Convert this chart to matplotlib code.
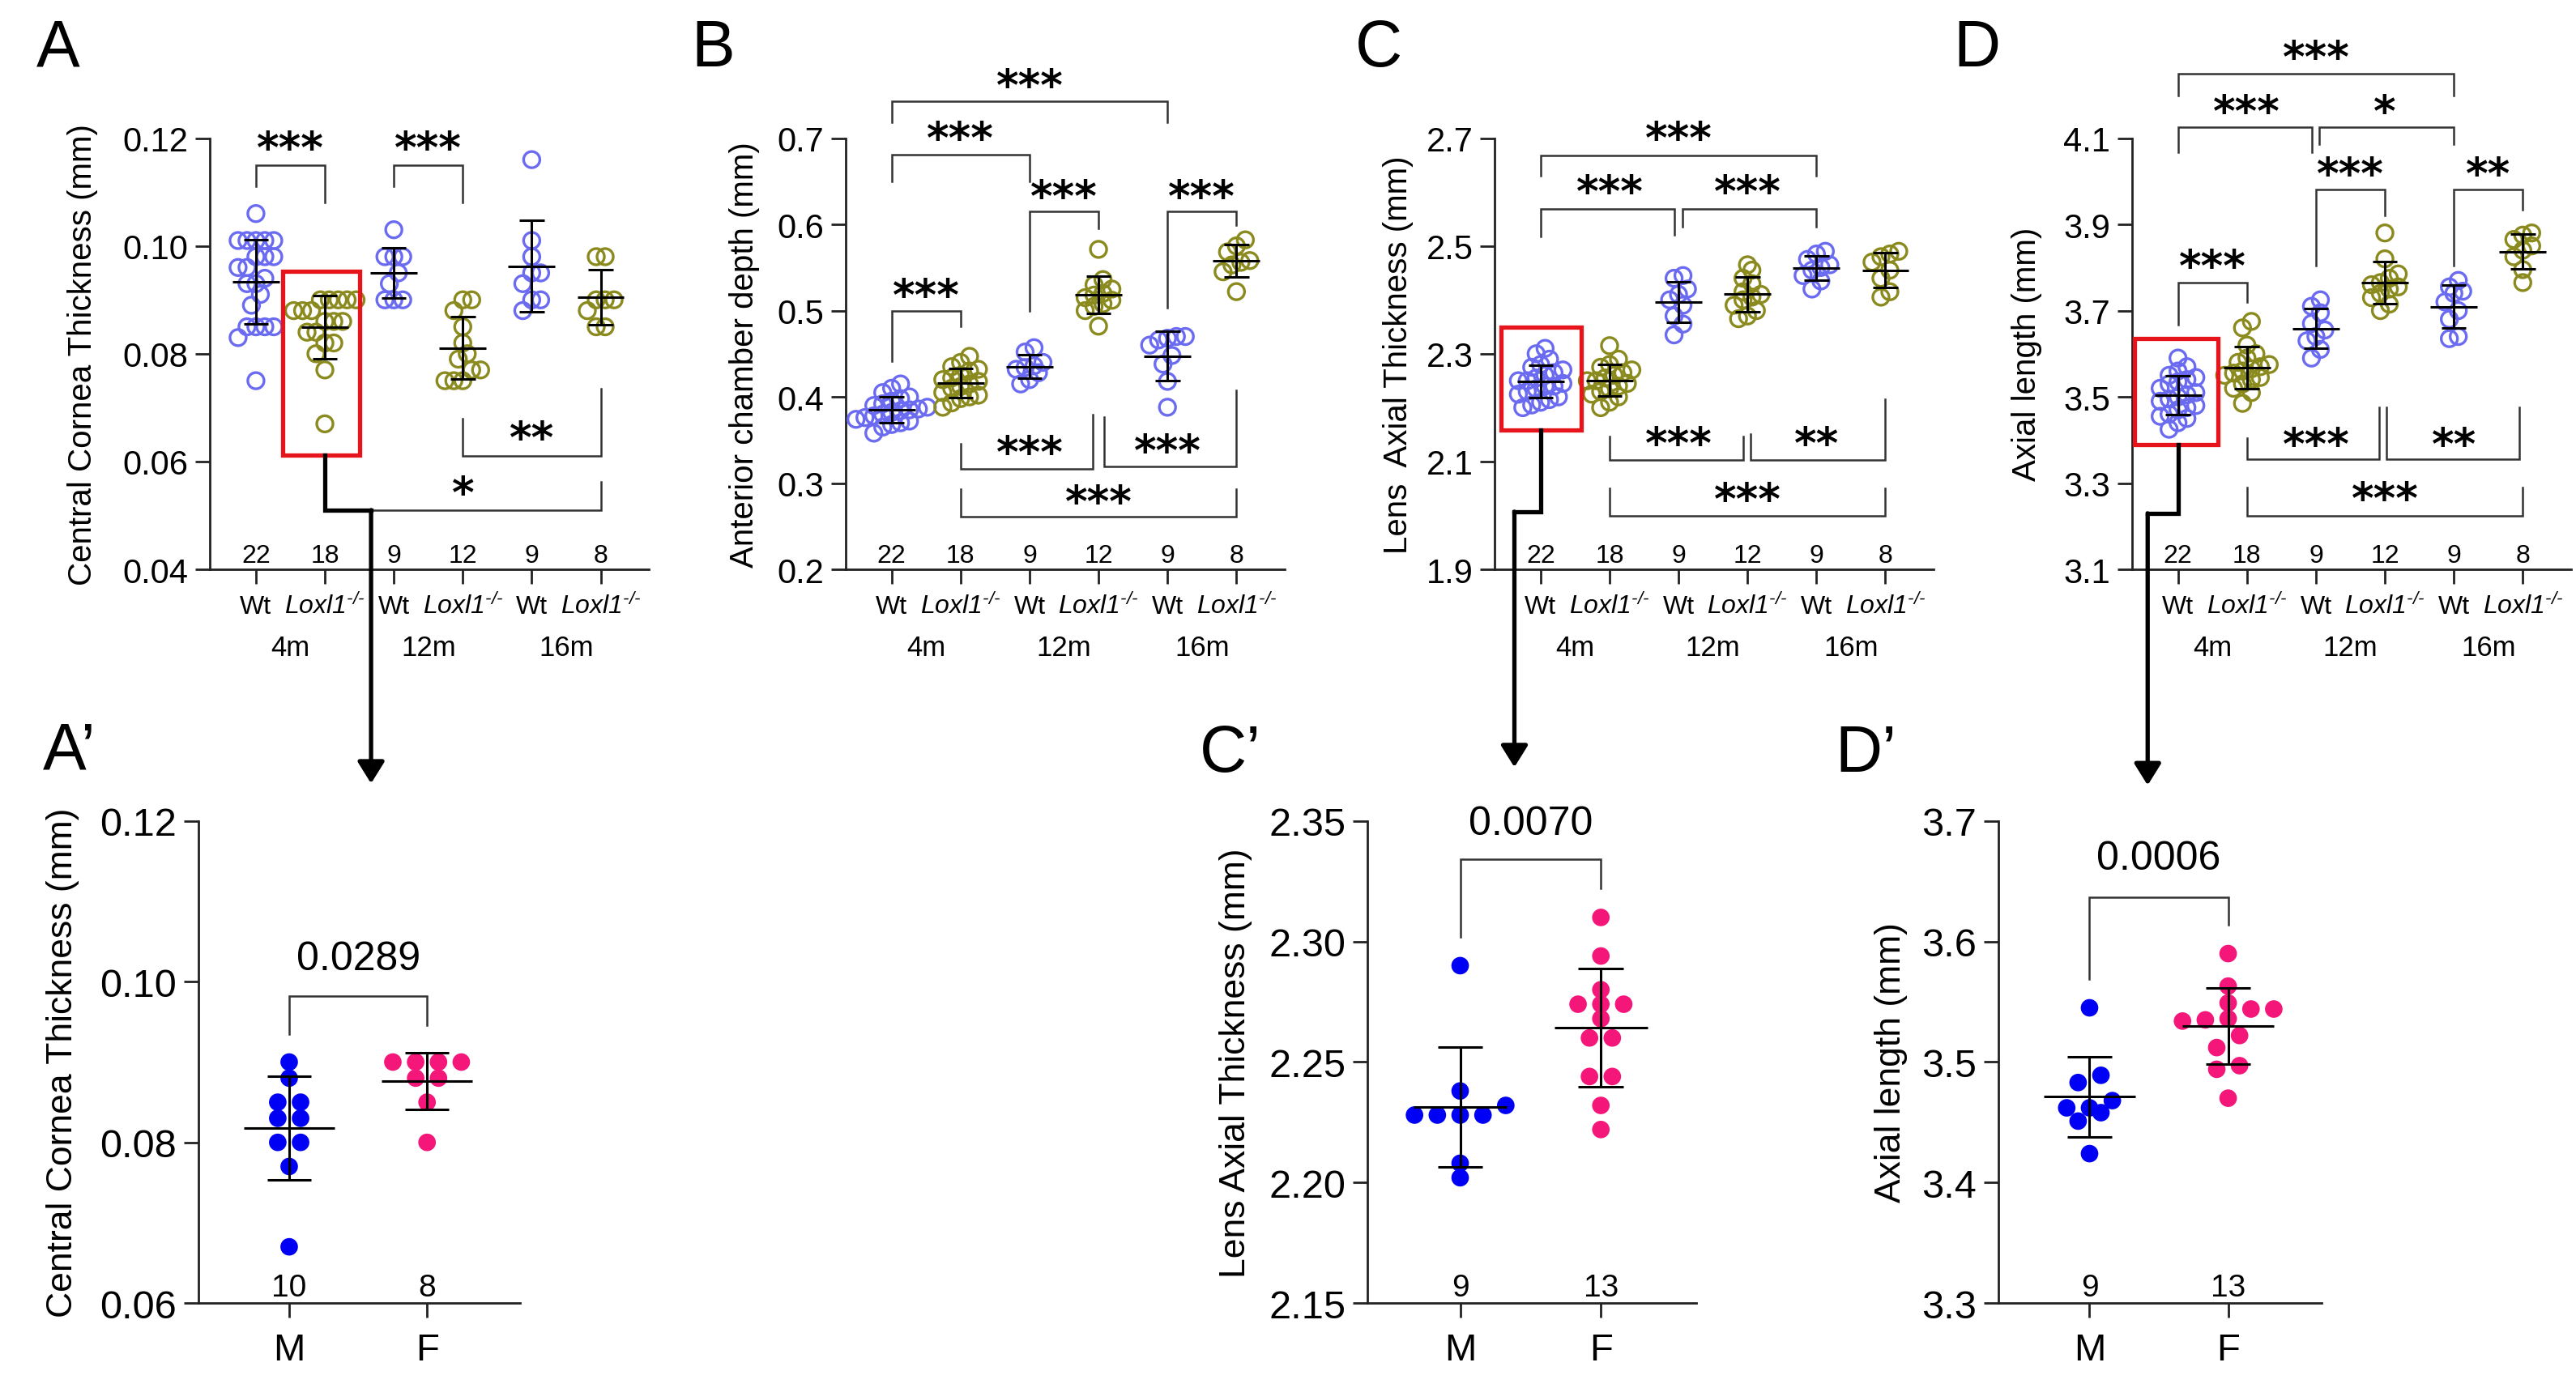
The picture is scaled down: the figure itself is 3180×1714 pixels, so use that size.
import numpy as np
import matplotlib
matplotlib.use('Agg')
import matplotlib.pyplot as plt
import matplotlib.transforms as mtransforms
from matplotlib.patches import Rectangle, FancyArrowPatch
from matplotlib.lines import Line2D

plt.rcParams['font.family'] = ['Liberation Sans', 'DejaVu Sans']
plt.rcParams['mathtext.fontset'] = 'custom'
plt.rcParams['mathtext.rm'] = 'Liberation Sans:italic'
plt.rcParams['mathtext.it'] = 'Liberation Sans:italic'
plt.rcParams['axes.linewidth'] = 1.0

# ---------------- datos ----------------
grupos = ['Wt', r'$\mathit{Loxl1}^{\text{-/-}}$', 'Wt', r'$\mathit{Loxl1}^{\text{-/-}}$',
          'Wt', r'$\mathit{Loxl1}^{\text{-/-}}$']
edades = ['4m', '12m', '16m']
n_grupos = [22, 18, 9, 12, 9, 8]

# A: grosor corneal central (mm)
cct_wt_4m = [0.106, 0.101, 0.101, 0.101, 0.101, 0.101, 0.098, 0.098, 0.098, 0.096, 0.096,
             0.094, 0.093, 0.093, 0.091, 0.089, 0.085, 0.085, 0.085, 0.085, 0.083, 0.075]
cct_ko_4m = [0.090, 0.090, 0.090, 0.090, 0.090, 0.088, 0.088, 0.088, 0.086, 0.086, 0.086,
             0.084, 0.084, 0.082, 0.082, 0.080, 0.077, 0.067]
cct_wt_12m = [0.103, 0.098, 0.098, 0.098, 0.095, 0.093, 0.090, 0.090, 0.090]
cct_ko_12m = [0.090, 0.090, 0.088, 0.085, 0.082, 0.080, 0.079, 0.077, 0.077, 0.075, 0.075, 0.075]
cct_wt_16m = [0.116, 0.101, 0.098, 0.095, 0.095, 0.093, 0.090, 0.090, 0.088]
cct_ko_16m = [0.098, 0.098, 0.090, 0.090, 0.090, 0.088, 0.085, 0.085]

# B: profundidad de camara anterior (mm)
acd_wt_4m = [0.415, 0.410, 0.405, 0.400, 0.398, 0.395, 0.392, 0.390, 0.388, 0.386, 0.385,
             0.384, 0.382, 0.380, 0.378, 0.376, 0.374, 0.372, 0.370, 0.368, 0.365, 0.358]
acd_ko_4m = [0.447, 0.440, 0.435, 0.432, 0.430, 0.425, 0.422, 0.420, 0.418, 0.415, 0.412,
             0.410, 0.405, 0.402, 0.400, 0.398, 0.393, 0.388]
acd_wt_12m = [0.457, 0.452, 0.440, 0.436, 0.434, 0.432, 0.428, 0.420, 0.415]
acd_ko_12m = [0.571, 0.536, 0.530, 0.525, 0.520, 0.518, 0.515, 0.512, 0.508, 0.505, 0.500, 0.482]
acd_wt_16m = [0.470, 0.470, 0.468, 0.466, 0.460, 0.448, 0.438, 0.418, 0.388]
acd_ko_16m = [0.582, 0.575, 0.568, 0.558, 0.556, 0.553, 0.545, 0.522]

# C: grosor axial del cristalino (mm)
lat_wt_4m = [2.310, 2.300, 2.290, 2.280, 2.275, 2.270, 2.265, 2.260, 2.255, 2.250, 2.250,
             2.245, 2.240, 2.240, 2.235, 2.230, 2.225, 2.220, 2.215, 2.210, 2.205, 2.200]
lat_ko_4m = [2.315, 2.290, 2.280, 2.275, 2.270, 2.265, 2.260, 2.255, 2.250, 2.250, 2.245,
             2.240, 2.235, 2.230, 2.225, 2.220, 2.210, 2.200]
lat_wt_12m = [2.445, 2.440, 2.420, 2.410, 2.400, 2.390, 2.370, 2.355, 2.335]
lat_ko_12m = [2.465, 2.455, 2.440, 2.430, 2.415, 2.410, 2.405, 2.400, 2.390, 2.380, 2.370, 2.365]
lat_wt_16m = [2.490, 2.485, 2.475, 2.465, 2.460, 2.455, 2.445, 2.435, 2.420]
lat_ko_16m = [2.490, 2.485, 2.480, 2.470, 2.455, 2.440, 2.415, 2.405]

# D: longitud axial (mm)
al_wt_4m = [3.590, 3.570, 3.560, 3.550, 3.545, 3.540, 3.535, 3.530, 3.520, 3.510, 3.505,
            3.500, 3.495, 3.490, 3.480, 3.475, 3.470, 3.460, 3.455, 3.450, 3.440, 3.425]
al_ko_4m = [3.675, 3.660, 3.620, 3.600, 3.590, 3.580, 3.575, 3.570, 3.565, 3.560, 3.555,
            3.550, 3.545, 3.540, 3.530, 3.520, 3.510, 3.485]
al_wt_12m = [3.725, 3.710, 3.695, 3.670, 3.655, 3.640, 3.630, 3.610, 3.590]
al_ko_12m = [3.880, 3.820, 3.785, 3.775, 3.765, 3.760, 3.755, 3.750, 3.740, 3.730, 3.715, 3.700]
al_wt_16m = [3.770, 3.755, 3.745, 3.740, 3.720, 3.700, 3.680, 3.640, 3.635]
al_ko_16m = [3.880, 3.875, 3.865, 3.850, 3.840, 3.825, 3.795, 3.765]

# A', C', D': por sexo (4m Wt)
sexos = ['M', 'F']
cct_m = [0.090, 0.088, 0.085, 0.085, 0.083, 0.083, 0.080, 0.080, 0.077, 0.067]
cct_f = [0.090, 0.090, 0.090, 0.090, 0.088, 0.088, 0.085, 0.080]
n_cct_sexo = [10, 8]
lat_m = [2.290, 2.238, 2.232, 2.228, 2.228, 2.228, 2.228, 2.208, 2.202]
lat_f = [2.310, 2.294, 2.280, 2.274, 2.274, 2.274, 2.268, 2.260, 2.260, 2.244, 2.244, 2.232, 2.222]
n_lat_sexo = [9, 13]
al_m = [3.545, 3.489, 3.483, 3.468, 3.462, 3.462, 3.458, 3.451, 3.424]
al_f = [3.590, 3.563, 3.549, 3.544, 3.544, 3.536, 3.535, 3.534, 3.522, 3.512, 3.497, 3.494, 3.470]
n_al_sexo = [9, 13]

p_cct, p_lat, p_al = '0.0289', '0.0070', '0.0006'

# ---------------- estilo ----------------
col_wt = '#6b6bf2'
col_ko = '#8a8a1e'
col_m = '#0000f5'
col_f = '#f5167a'
col_linea = '#222222'

fig = plt.figure(figsize=(15.9, 8.575), dpi=200)
W, H = 1560.0, 850.0


def caja(l, r, t, b):
    return [l / W, 1 - b / H, (r - l) / W, (b - t) / H]


def offsets_filas(vals, ax, ms, sep, tol=0.75):
    pos = ax.get_position()
    w_px = pos.width * fig.get_figwidth() * fig.dpi
    h_px = pos.height * fig.get_figheight() * fig.dpi
    x0, x1 = ax.get_xlim()
    y0, y1 = ax.get_ylim()
    d_px = ms * fig.dpi / 72.0
    dx = d_px / w_px * (x1 - x0)
    dy = d_px / h_px * (y1 - y0)
    vals = np.asarray(vals, float)
    off = np.zeros(len(vals))
    filas = []
    inicio = None
    for idx in np.argsort(vals):
        if inicio is None or vals[idx] - inicio > tol * dy + 1e-9:
            filas.append([idx])
            inicio = vals[idx]
        else:
            filas[-1].append(idx)
    for fila in filas:
        k = len(fila)
        for j, idx in enumerate(fila):
            off[idx] = (j - (k - 1) / 2.0) * sep * dx
    return off


def grupo(ax, x, vals, color, lleno, ms, sep, semi_media, semi_cap):
    vals = np.asarray(vals, float)
    off = offsets_filas(vals, ax, ms, sep)
    if lleno:
        ax.scatter(x + off, vals, s=ms ** 2, facecolor=color, edgecolor='none', zorder=3, clip_on=False)
    else:
        ax.scatter(x + off, vals, s=ms ** 2, facecolor='none', edgecolor=color, linewidths=1.2,
                   zorder=3, clip_on=False)
    m = vals.mean()
    sd = vals.std(ddof=1)
    kw = dict(color='k', lw=1.1, zorder=4, solid_capstyle='butt')
    ax.plot([x - semi_media, x + semi_media], [m, m], **kw)
    ax.plot([x - semi_cap, x + semi_cap], [m + sd, m + sd], **kw)
    ax.plot([x - semi_cap, x + semi_cap], [m - sd, m - sd], **kw)
    ax.plot([x, x], [m - sd, m + sd], **kw)


def corchete(ax, x1, x2, yb, y1, y2, txt, yt, dx1=0.0, dx2=0.0, estrella=True, size=19):
    ax.plot([x1 + dx1, x1 + dx1, x2 + dx2, x2 + dx2], [y1, yb, yb, y2], color='#333333', lw=0.9,
            clip_on=False, zorder=2, solid_joinstyle='miter')
    if estrella:
        ax.annotate(txt, ((x1 + x2) / 2.0, yt), xytext=(0, -11), textcoords='offset points',
                    ha='center', va='baseline', fontsize=size, fontweight='bold',
                    family='DejaVu Sans', annotation_clip=False)
    else:
        ax.annotate(txt, ((x1 + x2) / 2.0, yt), ha='center', va='center', fontsize=18,
                    annotation_clip=False)


def ejes_base(ax, ylim, yticks, fmt, ylabel, xlab, ticksize, labsize):
    for s in ['top', 'right']:
        ax.spines[s].set_visible(False)
    for s in ['left', 'bottom']:
        ax.spines[s].set_color(col_linea)
    ax.set_ylim(*ylim)
    ax.set_yticks(yticks)
    ax.set_yticklabels([fmt.format(t) for t in yticks])
    ax.tick_params(axis='both', length=6.5, width=1.0, color=col_linea, labelsize=ticksize, pad=3)
    ax.set_ylabel(ylabel, fontsize=labsize, va='center')
    ax.yaxis.set_label_coords(xlab, 0.5)


def panel_superior(ax, datos, ylim, yticks, fmt, ylabel, xlab):
    ax.set_xlim(-0.67, 5.7)
    ejes_base(ax, ylim, yticks, fmt, ylabel, xlab, 15, 14.5)
    ax.set_xticks(range(6))
    ax.set_xticklabels([''] * 6)
    for i, vals in enumerate(datos):
        grupo(ax, i, vals, col_wt if i % 2 == 0 else col_ko, False, 7.2, 0.55, 0.34, 0.18)
    tr = mtransforms.blended_transform_factory(ax.transData, ax.transAxes)
    for i in range(6):
        ax.annotate(str(n_grupos[i]), (i, 0), xycoords=tr, xytext=(0, 3.3), textcoords='offset points',
                    ha='center', va='baseline', fontsize=11.5, annotation_clip=False)
        ax.annotate(grupos[i], (i, 0), xycoords=tr, xytext=(0, -19.5), textcoords='offset points',
                    ha='center', va='baseline', fontsize=11.5, annotation_clip=False)
    for j, e in enumerate(edades):
        ax.annotate(e, (2 * j + 0.5, 0), xycoords=tr, xytext=(0, -38), textcoords='offset points',
                    ha='center', va='baseline', fontsize=12.5, annotation_clip=False)


def panel_inferior(ax, datos, ns, ylim, yticks, fmt, ylabel, xlab):
    ax.set_xlim(-0.66, 1.675)
    ejes_base(ax, ylim, yticks, fmt, ylabel, xlab, 17.5, 16)
    ax.set_xticks([0, 1])
    ax.set_xticklabels([''] * 2)
    for i, vals in enumerate(datos):
        grupo(ax, i, vals, col_m if i == 0 else col_f, True, 7.8, 1.3, 0.33, 0.16)
    tr = mtransforms.blended_transform_factory(ax.transData, ax.transAxes)
    for i in range(2):
        ax.annotate(str(ns[i]), (i, 0), xycoords=tr, xytext=(0, 3.3), textcoords='offset points',
                    ha='center', va='baseline', fontsize=14, annotation_clip=False)
        ax.annotate(sexos[i], (i, 0), xycoords=tr, xytext=(0, -25), textcoords='offset points',
                    ha='center', va='baseline', fontsize=17, annotation_clip=False)


ax_a = fig.add_axes(caja(127, 393, 85, 349))
ax_b = fig.add_axes(caja(512, 778, 85, 349))
ax_c = fig.add_axes(caja(905, 1171, 85, 349))
ax_d = fig.add_axes(caja(1291, 1557, 85, 349))
ax_a2 = fig.add_axes(caja(120, 315, 503, 798))
ax_c2 = fig.add_axes(caja(828, 1027, 503, 798))
ax_d2 = fig.add_axes(caja(1210, 1406, 503, 798))

panel_superior(ax_a, [cct_wt_4m, cct_ko_4m, cct_wt_12m, cct_ko_12m, cct_wt_16m, cct_ko_16m],
               (0.04, 0.12), [0.04, 0.06, 0.08, 0.10, 0.12], '{:.2f}',
               'Central Cornea Thickness (mm)', -0.29)
panel_superior(ax_b, [acd_wt_4m, acd_ko_4m, acd_wt_12m, acd_ko_12m, acd_wt_16m, acd_ko_16m],
               (0.2, 0.7), [0.2, 0.3, 0.4, 0.5, 0.6, 0.7], '{:.1f}',
               'Anterior chamber depth (mm)', -0.23)
panel_superior(ax_c, [lat_wt_4m, lat_ko_4m, lat_wt_12m, lat_ko_12m, lat_wt_16m, lat_ko_16m],
               (1.9, 2.7), [1.9, 2.1, 2.3, 2.5, 2.7], '{:.1f}',
               'Lens  Axial Thickness (mm)', -0.22)
panel_superior(ax_d, [al_wt_4m, al_ko_4m, al_wt_12m, al_ko_12m, al_wt_16m, al_ko_16m],
               (3.1, 4.1), [3.1, 3.3, 3.5, 3.7, 3.9, 4.1], '{:.1f}',
               'Axial length (mm)', -0.24)

panel_inferior(ax_a2, [cct_m, cct_f], n_cct_sexo, (0.06, 0.12), [0.06, 0.08, 0.10, 0.12], '{:.2f}',
               'Central Cornea Thickness (mm)', -0.42)
panel_inferior(ax_c2, [lat_m, lat_f], n_lat_sexo, (2.15, 2.35), [2.15, 2.20, 2.25, 2.30, 2.35], '{:.2f}',
               'Lens Axial Thickness (mm)', -0.40)
panel_inferior(ax_d2, [al_m, al_f], n_al_sexo, (3.3, 3.7), [3.3, 3.4, 3.5, 3.6, 3.7], '{:.1f}',
               'Axial length (mm)', -0.33)

# corchetes de significancia
for c in [(0, 1, 0.115, 0.111, 0.108, '***', 0.1201),
          (2, 3, 0.115, 0.111, 0.108, '***', 0.1201),
          (3, 5, 0.0611, 0.068, 0.0735, '**', 0.0664),
          (1, 5, 0.051, 0.051, 0.0562, '*', 0.0562)]:
    corchete(ax_a, *c)

for c in [(0, 4, 0.743, 0.718, 0.718, '***', 0.773),
          (0, 2, 0.681, 0.650, 0.650, '***', 0.712),
          (2, 3, 0.615, 0.500, 0.595, '***', 0.645),
          (4, 5, 0.615, 0.503, 0.599, '***', 0.645),
          (0, 1, 0.500, 0.441, 0.482, '***', 0.530)]:
    corchete(ax_b, *c)
corchete(ax_b, 1, 3, 0.317, 0.346, 0.379, '***', 0.348, dx2=-0.08)
corchete(ax_b, 3, 5, 0.319, 0.377, 0.408, '***', 0.350, dx1=0.08)
corchete(ax_b, 1, 5, 0.261, 0.293, 0.293, '***', 0.291)

corchete(ax_c, 0, 4, 2.668, 2.630, 2.630, '***', 2.720)
corchete(ax_c, 0, 2, 2.569, 2.518, 2.520, '***', 2.621, dx2=-0.06)
corchete(ax_c, 2, 4, 2.569, 2.536, 2.535, '***', 2.621, dx1=0.06)
corchete(ax_c, 1, 3, 2.103, 2.147, 2.147, '***', 2.153, dx2=-0.06)
corchete(ax_c, 3, 5, 2.103, 2.151, 2.216, '**', 2.153, dx1=0.04)
corchete(ax_c, 1, 5, 1.999, 2.050, 2.050, '***', 2.050)

corchete(ax_d, 0, 4, 4.250, 4.199, 4.199, '***', 4.312)
corchete(ax_d, 0, 2, 4.125, 4.068, 4.068, '***', 4.187, dx2=-0.06)
corchete(ax_d, 2, 4, 4.125, 4.085, 4.085, '*', 4.187, dx1=0.05)
corchete(ax_d, 2, 3, 3.980, 3.805, 3.921, '***', 4.042)
corchete(ax_d, 4, 5, 3.980, 3.805, 3.934, '**', 4.042)
corchete(ax_d, 0, 1, 3.764, 3.668, 3.719, '***', 3.827)
corchete(ax_d, 1, 3, 3.355, 3.405, 3.476, '***', 3.415, dx2=-0.08)
corchete(ax_d, 3, 5, 3.355, 3.476, 3.476, '**', 3.415, dx1=0.02, dx2=-0.05)
corchete(ax_d, 1, 5, 3.225, 3.289, 3.289, '***', 3.289)

corchete(ax_a2, 0, 1, 0.0982, 0.0935, 0.0946, p_cct, 0.1029, estrella=False)
corchete(ax_c2, 0, 1, 2.334, 2.302, 2.322, p_lat, 2.349, estrella=False)
corchete(ax_d2, 0, 1, 3.637, 3.569, 3.614, p_al, 3.669, estrella=False)

# recuadros rojos y conectores hacia los paneles por sexo
a_fig = lambda ax, x, y: fig.transFigure.inverted().transform(ax.transData.transform((x, y)))

for ax, (x0, x1, y0, y1), ruta, punta in [
        (ax_a, (0.39, 1.50, 0.0612, 0.0953), [(1, 0.0612), (1, 0.051), (1.67, 0.051)], 0.4353),
        (ax_c, (-0.57, 0.59, 2.158, 2.350), [(0, 2.158), (0, 2.007), (-0.38, 2.007)], 0.4470),
        (ax_d, (-0.63, 0.58, 3.390, 3.636), [(0, 3.390), (0, 3.230), (-0.44, 3.230)], 0.4340)]:
    ax.add_patch(Rectangle((x0, y0), x1 - x0, y1 - y0, fill=False, edgecolor='#e8141c', lw=1.9,
                           clip_on=False, zorder=6))
    pts = [a_fig(ax, x, y) for x, y in ruta]
    xs = [p[0] for p in pts]
    ys = [p[1] for p in pts]
    fig.add_artist(Line2D(xs, ys, transform=fig.transFigure, color='k', lw=1.9,
                          solid_joinstyle='miter', solid_capstyle='projecting'))
    fig.add_artist(FancyArrowPatch((xs[-1], ys[-1]), (xs[-1], punta), transform=fig.transFigure,
                                   arrowstyle='-|>,head_length=0.45,head_width=0.28', mutation_scale=18,
                                   color='k', lw=1.9, shrinkA=0, shrinkB=0))

# letras de panel
for txt, x, y in [('A', 35, 30), ('B', 432, 30), ('C', 835, 30), ('D', 1197, 30),
                  ('A\u2019', 42, 460), ('C\u2019', 745, 462), ('D\u2019', 1130, 462)]:
    fig.text(x / W, 1 - y / H, txt, fontsize=29, ha='center', va='center')

fig.savefig('out.png', dpi=200)
